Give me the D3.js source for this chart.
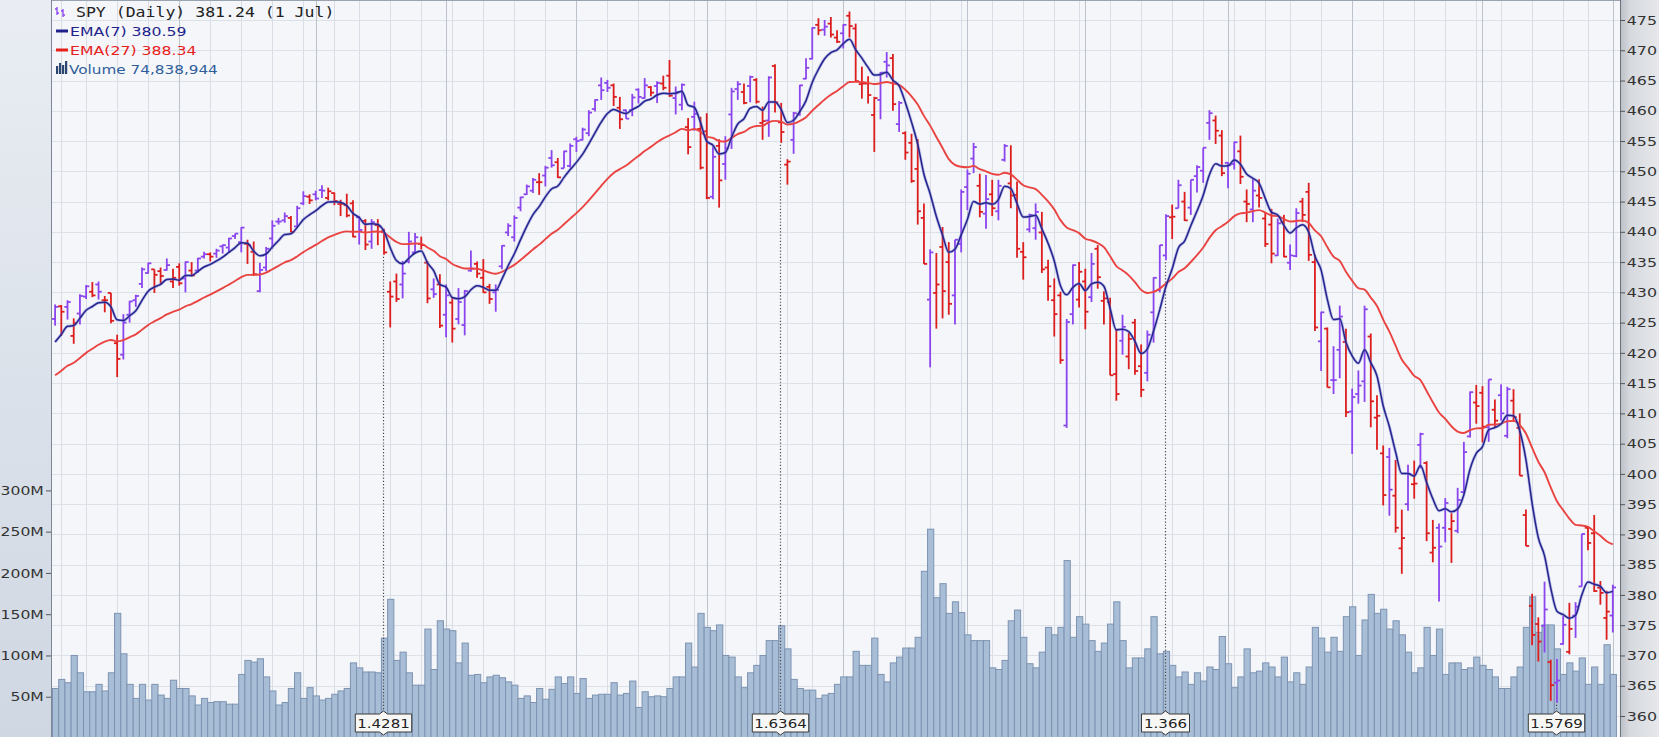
<!DOCTYPE html>
<html>
<head>
<meta charset="utf-8">
<script src="https://cdn.jsdelivr.net/npm/d3@7"></script>
<style>
  html, body { margin: 0; padding: 0; background: #fff; overflow: hidden; }
  svg { display: block; }
</style>
</head>
<body>
<svg id="chart" width="1659" height="737"></svg>
<script>
// SPY daily bars, 2 Jul 2021 .. 1 Jul 2022 (dividend adjusted, as drawn on the chart)
const opens = [
  425.6,427.7,427.6,422.8,426.5,429.3,430.1,431.3,428.7,429.9,
  421.6,419.7,426.3,428.7,431.4,433.2,433.8,433.5,433.7,431.8,
  434.2,432.3,433.6,433.6,435.9,436.3,436.4,437.6,437.4,439.3,
  438.3,438.0,436.7,430.2,434.1,438.9,441.7,441.9,442.3,440.9,
  444.7,445.8,446.2,446.9,445.6,446.4,444.6,444.4,444.7,442.4,
  441.8,438.4,441.1,440.1,430.1,431.8,431.3,435.1,436.6,438.0,
  434.9,430.5,431.3,426.3,428.3,425.6,424.6,433.6,434.7,432.4,
  430.9,430.0,434.3,439.9,439.1,444.0,446.2,446.8,448.2,449.3,
  452.2,451.5,450.5,450.9,455.3,455.2,456.3,460.3,464.2,464.6,
  464.2,460.5,460.1,460.1,463.5,462.1,463.9,464.1,464.5,465.8,
  462.1,461.0,457.3,459.0,457.0,456.6,445.8,454.2,451.2,459.4,
  463.6,463.1,464.1,465.1,458.0,458.4,467.4,458.1,451.1,455.2,
  459.4,465.3,468.6,474.2,473.4,474.4,472.1,472.8,475.7,473.6,
  464.4,464.5,459.3,461.8,468.1,468.7,457.8,456.3,454.7,450.4,
  442.3,428.8,429.9,437.5,435.0,429.5,438.0,447.4,452.1,447.6,
  443.0,446.2,443.4,451.9,448.0,446.1,436.7,440.4,440.6,439.9,
  434.1,428.7,429.5,408.0,426.4,428.8,431.8,429.2,437.2,428.6,
  428.4,416.5,422.0,419.4,425.0,417.8,416.7,426.7,430.4,436.1,
  442.4,443.9,445.0,444.0,449.2,450.1,458.0,458.4,455.9,451.4,
  451.2,453.3,445.0,443.7,446.0,442.2,441.2,436.1,441.6,434.9,
  436.0,445.0,446.6,435.0,421.9,424.0,415.5,420.5,421.8,410.3,
  413.2,415.3,422.7,409.3,403.4,402.8,396.4,387.7,395.0,398.3,
  404.8,401.8,387.0,391.1,391.1,390.9,390.6,397.0,406.2,411.8,
  413.4,407.7,410.6,413.0,406.3,412.1,407.6,393.2,378.2,375.2,
  374.9,368.9,365.5,371.9,370.6,376.6,381.4,391.1,390.2,381.2,
  376.2,376.6
];
const highs = [
  428.0,427.9,428.7,425.7,429.7,431.2,431.7,431.8,429.4,429.9,
  423.0,426.4,428.6,429.6,434.1,434.9,433.8,434.1,435.6,433.9,
  434.8,435.1,435.0,435.7,436.7,436.6,437.2,437.9,439.0,439.7,
  440.8,438.7,438.4,434.9,437.5,441.9,442.3,443.2,442.6,444.3,
  446.7,446.2,446.8,447.7,447.3,446.5,445.3,446.3,445.2,442.6,
  442.1,442.1,442.1,440.5,431.8,433.1,435.2,440.0,439.8,439.2,
  435.2,432.3,433.0,431.3,429.2,430.7,430.4,436.9,435.1,435.5,
  431.4,431.3,437.8,441.4,442.7,445.8,447.8,448.9,449.7,450.9,
  453.5,452.2,453.4,454.6,455.7,457.2,460.1,461.9,465.5,465.1,
  464.5,462.3,460.2,462.8,463.7,465.4,464.1,464.9,465.8,468.4,
  464.0,464.5,458.8,461.5,459.0,459.6,454.1,455.3,455.8,463.8,
  464.9,464.5,465.8,465.4,460.7,465.7,467.7,461.3,452.0,459.8,
  464.3,468.7,473.8,475.3,475.0,475.5,473.3,474.3,476.4,474.4,
  467.3,465.7,462.3,466.4,469.7,469.4,461.6,456.6,456.2,455.3,
  444.7,437.1,436.5,440.8,438.3,438.7,447.0,450.3,454.7,449.6,
  449.4,448.6,448.6,454.5,454.3,448.3,438.3,443.0,444.7,443.3,
  435.4,432.3,430.1,425.6,434.6,435.0,433.9,436.5,437.8,430.2,
  429.1,424.0,426.3,423.3,425.6,421.4,423.7,432.5,437.8,442.9,
  444.5,448.6,446.6,448.6,451.0,453.9,460.1,459.2,456.8,451.5,
  454.9,455.9,447.0,448.8,448.7,443.1,443.8,442.2,442.8,437.9,
  443.9,445.6,448.1,436.2,426.8,424.2,421.1,427.8,424.0,414.1,
  417.1,427.8,423.2,413.0,404.7,404.3,402.3,394.1,401.5,402.2,
  406.8,402.1,392.4,391.8,396.0,393.5,397.7,405.3,413.6,414.7,
  414.5,415.6,412.3,414.8,414.4,414.0,410.0,394.1,380.2,376.3,
  382.2,369.3,369.4,376.5,378.7,378.8,390.1,391.4,393.2,382.3,
  380.7,381.7
];
const lows = [
  424.5,422.8,425.5,421.5,424.7,428.9,429.2,428.8,426.7,424.9,
  416.0,418.9,425.0,427.6,430.7,433.1,429.9,431.2,433.6,430.7,
  431.1,430.0,432.6,433.2,435.6,435.1,435.7,436.4,436.5,438.8,
  436.6,434.7,432.7,430.0,433.5,437.2,441.2,441.5,439.9,440.8,
  444.4,444.6,445.2,445.6,445.2,444.4,442.6,442.4,439.1,437.9,
  437.0,437.2,437.8,436.2,424.2,428.4,429.0,434.8,436.4,437.1,
  428.2,429.1,424.1,422.6,421.7,424.7,422.9,433.4,432.4,429.9,
  428.1,426.8,433.8,439.3,438.4,443.4,446.1,446.4,446.1,447.5,
  450.6,448.9,450.5,450.6,453.2,455.1,455.8,459.9,461.8,463.1,
  460.8,457.0,458.7,459.1,461.2,462.0,462.4,461.3,463.4,462.3,
  459.4,460.1,452.8,456.7,450.3,445.4,445.4,444.0,448.6,453.7,
  461.8,461.1,461.4,461.2,455.2,455.7,459.7,454.7,447.8,452.9,
  459.2,465.2,468.5,472.5,472.4,472.1,471.2,470.3,472.1,464.8,
  462.0,461.2,453.2,458.6,465.5,460.0,456.5,451.9,448.1,441.2,
  434.7,417.6,424.0,425.7,426.3,424.7,436.6,443.6,449.7,442.4,
  440.5,442.6,441.9,451.6,443.9,435.7,432.1,439.9,438.7,433.2,
  428.6,422.7,418.2,407.6,424.7,427.5,423.9,428.4,430.6,424.7,
  416.3,412.1,419.7,417.3,416.4,412.7,415.3,421.7,430.0,435.3,
  438.8,443.9,441.8,442.8,446.5,448.1,455.2,454.5,449.2,447.2,
  450.3,447.9,441.6,441.6,444.0,437.5,434.8,436.0,435.8,433.7,
  435.8,441.6,435.2,423.6,417.0,414.3,413.2,415.8,409.4,403.3,
  411.6,411.9,407.7,404.0,394.8,393.1,390.3,383.5,393.9,395.9,
  400.9,388.9,385.4,378.9,388.7,385.3,390.2,396.7,406.0,408.3,
  405.2,405.3,407.7,408.8,405.9,408.6,399.7,388.1,371.7,369.0,
  370.5,362.5,362.2,371.8,370.2,372.9,381.4,387.4,380.5,378.4,
  372.6,373.8
];
const closes = [
  427.6,426.8,428.4,424.9,429.4,431.0,429.5,430.1,428.7,425.3,
  419.0,425.0,428.5,429.4,433.8,434.8,432.9,432.7,434.5,432.4,
  431.5,435.0,432.8,435.6,436.3,435.9,436.9,437.8,438.9,439.7,
  440.7,437.8,433.0,433.7,437.2,441.0,441.7,442.6,440.0,443.9,
  445.9,445.2,445.5,446.8,446.7,445.1,444.6,442.7,439.2,440.3,
  437.9,441.6,440.9,436.6,429.3,428.9,433.1,438.4,439.1,437.8,
  429.0,429.7,424.5,429.5,424.0,428.4,430.2,433.9,433.1,430.0,
  428.9,430.4,437.7,441.0,442.3,445.7,447.5,448.6,448.2,450.6,
  451.0,449.0,453.3,454.2,455.0,456.9,459.7,461.8,463.4,463.8,
  462.3,458.6,458.7,462.2,462.3,464.2,463.0,464.6,463.8,462.5,
  463.1,464.3,454.0,459.5,450.6,445.6,452.4,448.5,453.8,463.2,
  464.4,461.3,465.6,461.5,458.3,465.5,461.4,456.5,451.6,459.6,
  464.2,467.1,473.7,473.3,473.9,472.6,471.4,474.2,474.0,464.9,
  464.5,462.6,462.1,466.3,467.5,461.1,461.3,453.1,448.4,443.4,
  434.7,436.6,431.3,430.2,428.1,438.7,446.6,449.6,454.0,443.3,
  445.4,443.9,447.6,454.2,446.0,437.2,435.8,442.8,443.3,433.8,
  431.0,426.4,418.8,425.1,434.5,433.4,426.8,434.7,432.5,429.0,
  416.3,413.2,424.3,422.3,417.0,413.9,423.0,432.4,437.8,442.6,
  442.5,447.7,441.9,448.6,450.7,453.9,459.6,456.7,449.7,451.0,
  454.8,449.1,444.6,446.8,445.6,438.0,436.4,441.4,435.9,436.1,
  443.1,442.8,436.2,424.2,426.7,414.3,415.5,426.0,410.2,412.7,
  414.6,427.2,412.0,409.6,396.5,397.4,391.1,389.4,400.0,398.4,
  406.6,390.2,387.8,388.0,395.2,392.2,395.7,403.6,413.5,411.2,
  407.8,415.6,408.8,410.0,414.0,409.4,399.7,388.1,373.4,372.3,
  377.6,365.1,365.86,375.07,374.39,378.06,390.08,388.59,380.65,380.34,
  377.25,381.24
];
// volume in millions of shares
const volumes = [
  60,71,67,100,79,56,56,65,57,79,
  151,102,65,48,65,46,65,52,48,70,
  60,60,51,40,48,43,44,44,41,41,
  77,94,92,96,74,57,40,43,60,79,
  48,61,51,46,48,53,57,60,91,85,
  80,80,79,121,168,94,104,79,64,64,
  132,83,142,132,130,91,115,76,77,67,
  74,76,73,68,64,48,51,43,60,47,
  59,74,66,74,54,72,48,52,53,53,
  67,52,54,69,37,56,50,51,50,60,
  74,74,115,86,151,134,130,137,100,98,
  74,61,79,88,100,118,118,136,108,71,
  60,58,58,48,52,54,65,74,74,105,
  88,88,121,77,68,91,98,109,109,122,
  202,253,170,187,151,165,152,125,118,118,
  118,85,83,94,142,155,122,90,85,104,
  134,125,134,215,122,147,138,118,105,115,
  138,165,118,85,97,97,108,147,102,105,
  88,74,80,65,79,69,86,83,123,90,
  61,74,108,79,81,91,86,74,98,68,
  79,65,86,134,121,104,122,105,147,159,
  100,143,174,151,156,132,142,125,104,79,
  85,134,100,132,77,91,91,83,85,98,
  88,83,74,60,60,74,86,134,171,128,
  137,137,108,77,91,81,97,65,86,65,
  113,77
];

// calendar markers (bar indices)
const weekStarts = [1,5,10,15,20,25,30,35,40,45,49,54,59,64,69,74,79,84,89,94,99,103,108,113,118,122,
  127,132,137,141,146,151,156,161,165,170,175,180,185,190,195,199,204,209,214,219,224,229,233,238,243,247];
const monthStarts = [20,42,63,84,105,127,147,166,189,209,230,251];
const dividendBars = [53, 117, 179, 242];
const dividendLabels = ['1.4281', '1.6364', '1.366', '1.5769'];

const priceTicks = d3.range(360, 476, 5);
const volumeTicks = [50, 100, 150, 200, 250, 300];
const ema7Start = 421.8;   // EMA values at the first visible bar
const ema27Start = 416.3;

const W = 1659, H = 737;
const plotLeft = 52, plotRight = 1620;
const n = closes.length;

const svg = d3.select('#chart');
const defs = svg.append('defs');

const leftGrad = defs.append('linearGradient').attr('id', 'leftGrad')
  .attr('x1', 0).attr('y1', 0).attr('x2', 0).attr('y2', 1);
leftGrad.append('stop').attr('offset', '0%').attr('stop-color', '#e9edf3');
leftGrad.append('stop').attr('offset', '100%').attr('stop-color', '#cfd7e2');

const rightGrad = defs.append('linearGradient').attr('id', 'rightGrad')
  .attr('x1', 0).attr('y1', 0).attr('x2', 1).attr('y2', 0);
rightGrad.append('stop').attr('offset', '0%').attr('stop-color', '#b9bec6');
rightGrad.append('stop').attr('offset', '25%').attr('stop-color', '#d6d9de');
rightGrad.append('stop').attr('offset', '100%').attr('stop-color', '#e6e8eb');

svg.append('rect').attr('x', 0).attr('y', 0).attr('width', plotLeft).attr('height', H).attr('fill', 'url(#leftGrad)');
svg.append('rect').attr('x', plotRight).attr('y', 0).attr('width', W - plotRight).attr('height', H).attr('fill', 'url(#rightGrad)');
svg.append('rect').attr('x', plotLeft).attr('y', 0).attr('width', plotRight - plotLeft).attr('height', H).attr('fill', '#f4f6fa');

// scales
const x = d3.scaleBand().domain(d3.range(n)).range([plotLeft, plotLeft + 6.206 * n]).padding(0);
const cx = i => x(i) + x.bandwidth() / 2;
const y = d3.scaleLinear().domain([360, 475]).range([716, 20]);
const vy = d3.scaleLinear().domain([0, 300]).range([738, 490.4]);

const plot = svg.append('g');

// grid
plot.selectAll('.hgrid').data(priceTicks).join('line')
  .attr('x1', plotLeft).attr('x2', plotRight)
  .attr('y1', d => Math.round(y(d)) + 0.5).attr('y2', d => Math.round(y(d)) + 0.5)
  .attr('stroke', '#dce0e7').attr('stroke-width', 1);
plot.selectAll('.wgrid').data(weekStarts.filter(d => !monthStarts.includes(d))).join('line')
  .attr('x1', d => Math.round(cx(d)) + 0.5).attr('x2', d => Math.round(cx(d)) + 0.5)
  .attr('y1', 0).attr('y2', H)
  .attr('stroke', '#d9dee6').attr('stroke-width', 1);
plot.selectAll('.mgrid').data(monthStarts).join('line')
  .attr('x1', d => Math.round(cx(d)) + 0.5).attr('x2', d => Math.round(cx(d)) + 0.5)
  .attr('y1', 0).attr('y2', H)
  .attr('stroke', '#bcc3cd').attr('stroke-width', 1);

// volume
plot.selectAll('.vol').data(volumes).join('rect')
  .attr('x', (d, i) => x(i) + 0.5)
  .attr('width', x.bandwidth())
  .attr('y', d => vy(d))
  .attr('height', d => H + 2 - vy(d))
  .attr('fill', '#a8bdd6')
  .attr('stroke', '#7d93b1')
  .attr('stroke-width', 1);

// dividend markers
const divG = plot.append('g');
dividendBars.forEach((b, k) => {
  const xx = Math.round(cx(b)) - 0.5;
  divG.append('line')
    .attr('x1', xx).attr('x2', xx)
    .attr('y1', y(lows[b]) + 2).attr('y2', 714)
    .attr('stroke', '#4a4a4a').attr('stroke-width', 1.2)
    .attr('stroke-dasharray', '1.2,2');
  const g = divG.append('g').attr('transform', `translate(${xx},723)`);
  const label = dividendLabels[k];
  const bw = label.length * 8.4 + 6;
  g.append('path')
    .attr('d', `M${-bw / 2},-9 H-4 L0,-12 L4,-9 H${bw / 2} V9 H4 L0,12 L-4,9 H${-bw / 2} Z`)
    .attr('fill', '#f7f7f5').attr('stroke', '#3a3a3a').attr('stroke-width', 1);
  g.append('text')
    .attr('transform', 'scale(1.2,1)')
    .attr('text-anchor', 'middle').attr('y', 5)
    .attr('font-family', 'DejaVu Sans').attr('font-size', 12.5)
    .attr('fill', '#222').text(label);
});

// OHLC bars
const upColor = '#8b45ee', downColor = '#dc1d1d';
const isUp = i => i === 0 ? closes[0] >= opens[0] : closes[i] >= closes[i - 1];
const bars = plot.append('g');
d3.range(n).forEach(i => {
  const c = isUp(i) ? upColor : downColor;
  const xx = cx(i);
  const g = bars.append('g').attr('stroke', c).attr('stroke-width', 1.8);
  g.append('line').attr('x1', xx).attr('x2', xx).attr('y1', y(highs[i])).attr('y2', y(lows[i]));
  g.append('line').attr('x1', xx - 3.2).attr('x2', xx).attr('y1', y(opens[i])).attr('y2', y(opens[i]));
  g.append('line').attr('x1', xx).attr('x2', xx + 3.2).attr('y1', y(closes[i])).attr('y2', y(closes[i]));
});

// exponential moving averages of the closes
function ema(values, period, start) {
  const k = 2 / (period + 1);
  let e = start;
  return values.map((v, i) => (i === 0 ? e : (e = e + k * (v - e))));
}
const ema7 = ema(closes, 7, ema7Start);
const ema27 = ema(closes, 27, ema27Start);
const line = d3.line().x((d, i) => cx(i)).y(d => y(d)).curve(d3.curveMonotoneX);
plot.append('path').datum(ema27).attr('d', line)
  .attr('fill', 'none').attr('stroke', '#ea4442').attr('stroke-width', 1.9);
plot.append('path').datum(ema7).attr('d', line)
  .attr('fill', 'none').attr('stroke', '#7474cc').attr('stroke-width', 3).attr('stroke-opacity', 0.45);
plot.append('path').datum(ema7).attr('d', line)
  .attr('fill', 'none').attr('stroke', '#24248e').attr('stroke-width', 1.5);

// borders
svg.append('line').attr('x1', plotLeft - 0.5).attr('x2', plotLeft - 0.5).attr('y1', 0).attr('y2', H)
  .attr('stroke', '#7c8695');
svg.append('line').attr('x1', plotRight + 0.5).attr('x2', plotRight + 0.5).attr('y1', 0).attr('y2', H)
  .attr('stroke', '#6c737d');
svg.append('line').attr('x1', plotLeft).attr('x2', plotRight).attr('y1', 0.5).attr('y2', 0.5)
  .attr('stroke', '#9aa3b0');

// price axis (right)
const pAxis = svg.append('g').attr('transform', `translate(${plotRight},0)`)
  .call(d3.axisRight(y).tickValues(priceTicks).tickSize(5).tickPadding(2).tickFormat(d3.format('d')));
pAxis.select('.domain').remove();
pAxis.selectAll('.tick line').attr('stroke', '#555');
pAxis.selectAll('.tick text')
  .attr('font-family', 'DejaVu Sans').attr('font-size', 13).attr('fill', '#333')
  .attr('transform', 'scale(1.22,1)').attr('x', 5.5);

// volume axis (left)
const vAxis = svg.append('g').attr('transform', `translate(${plotLeft - 1},0)`)
  .call(d3.axisLeft(vy).tickValues(volumeTicks).tickSize(5).tickPadding(2).tickFormat(d => d + 'M'));
vAxis.select('.domain').remove();
vAxis.selectAll('.tick line').attr('stroke', '#555');
vAxis.selectAll('.tick text')
  .attr('font-family', 'DejaVu Sans').attr('font-size', 13).attr('fill', '#333')
  .attr('transform', 'scale(1.2,1)').attr('x', -6);

// legend
const legend = svg.append('g');
function stretchText(xx, yy, str, size, family, color, sx) {
  legend.append('text')
    .attr('transform', `translate(${xx},${yy}) scale(${sx},1)`)
    .attr('font-family', family).attr('font-size', size).attr('fill', color).text(str);
}
// ohlc icon
[[57, 7, 15, 9, 13, upColor], [63, 9, 17, 11, 15, upColor]].forEach(([ix, t, b, o, c, col]) => {
  legend.append('line').attr('x1', ix).attr('x2', ix).attr('y1', t).attr('y2', b).attr('stroke', col).attr('stroke-width', 1.3);
  legend.append('line').attr('x1', ix - 2).attr('x2', ix).attr('y1', o).attr('y2', o).attr('stroke', col).attr('stroke-width', 1.3);
  legend.append('line').attr('x1', ix).attr('x2', ix + 2).attr('y1', c).attr('y2', c).attr('stroke', col).attr('stroke-width', 1.3);
});
stretchText(76, 17, 'SPY (Daily) 381.24 (1 Jul)', 14, 'DejaVu Sans Mono', '#222', 1.18);
legend.append('line').attr('x1', 56).attr('x2', 68).attr('y1', 31).attr('y2', 31).attr('stroke', '#22228c').attr('stroke-width', 3);
stretchText(70, 36, 'EMA(7) 380.59', 12.5, 'DejaVu Sans', '#22228c', 1.26);
legend.append('line').attr('x1', 56).attr('x2', 68).attr('y1', 50).attr('y2', 50).attr('stroke', '#e8201c').attr('stroke-width', 3);
stretchText(70, 55, 'EMA(27) 388.34', 12.5, 'DejaVu Sans', '#e8201c', 1.26);
[[56, 66], [59, 63], [62, 65], [65, 61]].forEach(([bx, by]) => {
  legend.append('rect').attr('x', bx).attr('y', by).attr('width', 2.2).attr('height', 74 - by).attr('fill', '#2a4670');
});
stretchText(69, 74, 'Volume 74,838,944', 12.5, 'DejaVu Sans', '#2f5d9a', 1.22);
</script>
</body>
</html>
